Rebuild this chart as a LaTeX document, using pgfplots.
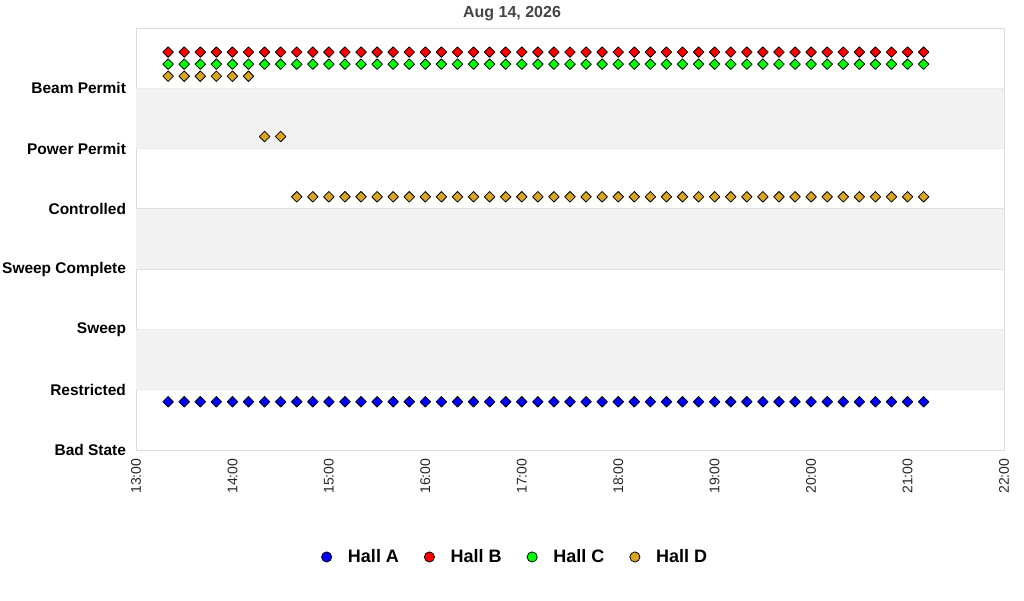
\documentclass[border=0pt]{standalone}
\usepackage{pgfplots}
\pgfplotsset{compat=1.18}
\usepackage{pgfplotstable}
\usepackage{fontspec}
\setmainfont{Liberation Sans}

\definecolor{hallA}{RGB}{0,0,255}
\definecolor{hallB}{RGB}{255,0,0}
\definecolor{hallC}{RGB}{0,255,0}
\definecolor{hallD}{RGB}{218,165,32}
\definecolor{band}{RGB}{242,242,242}
\definecolor{gridc}{RGB}{221,221,221}
\definecolor{titlec}{RGB}{68,68,68}

% minutes after 13:00, state index (offset per hall)
\pgfplotstableread{
x   a   b   c   d
20  0.8 6.6 6.4 6.2
30  0.8 6.6 6.4 6.2
40  0.8 6.6 6.4 6.2
50  0.8 6.6 6.4 6.2
60  0.8 6.6 6.4 6.2
70  0.8 6.6 6.4 6.2
80  0.8 6.6 6.4 5.2
90  0.8 6.6 6.4 5.2
100 0.8 6.6 6.4 4.2
110 0.8 6.6 6.4 4.2
120 0.8 6.6 6.4 4.2
130 0.8 6.6 6.4 4.2
140 0.8 6.6 6.4 4.2
150 0.8 6.6 6.4 4.2
160 0.8 6.6 6.4 4.2
170 0.8 6.6 6.4 4.2
180 0.8 6.6 6.4 4.2
190 0.8 6.6 6.4 4.2
200 0.8 6.6 6.4 4.2
210 0.8 6.6 6.4 4.2
220 0.8 6.6 6.4 4.2
230 0.8 6.6 6.4 4.2
240 0.8 6.6 6.4 4.2
250 0.8 6.6 6.4 4.2
260 0.8 6.6 6.4 4.2
270 0.8 6.6 6.4 4.2
280 0.8 6.6 6.4 4.2
290 0.8 6.6 6.4 4.2
300 0.8 6.6 6.4 4.2
310 0.8 6.6 6.4 4.2
320 0.8 6.6 6.4 4.2
330 0.8 6.6 6.4 4.2
340 0.8 6.6 6.4 4.2
350 0.8 6.6 6.4 4.2
360 0.8 6.6 6.4 4.2
370 0.8 6.6 6.4 4.2
380 0.8 6.6 6.4 4.2
390 0.8 6.6 6.4 4.2
400 0.8 6.6 6.4 4.2
410 0.8 6.6 6.4 4.2
420 0.8 6.6 6.4 4.2
430 0.8 6.6 6.4 4.2
440 0.8 6.6 6.4 4.2
450 0.8 6.6 6.4 4.2
460 0.8 6.6 6.4 4.2
470 0.8 6.6 6.4 4.2
480 0.8 6.6 6.4 4.2
490 0.8 6.6 6.4 4.2
}\statetable

\pgfplotsset{
  hall/.style={only marks, mark=square*, mark size=2.8pt,
    mark options={rotate=45, line join=round}, draw=black, fill=#1, line width=0.6pt},
}

\begin{document}
\begin{tikzpicture}[x=1pt,y=1pt]
  \useasboundingbox (-102pt,-112.5pt) rectangle (666pt,337.5pt);
  \begin{axis}[
    scale only axis,
    width=651pt,
    height=316.5pt,
    xmin=0, xmax=540,
    ymin=0, ymax=7,
    axis line style={draw=gridc},
    tickwidth=0pt,
    xtick={0,60,...,540},
    xticklabels={13:00,14:00,15:00,16:00,17:00,18:00,19:00,20:00,21:00,22:00},
    xticklabel shift=3pt,
    x tick label style={rotate=90, anchor=east, font=\fontsize{10.5}{12}\selectfont, text=black!85},
    ytick={0,1,2,3,4,5,6},
    yticklabels={Bad State,Restricted,Sweep,Sweep Complete,Controlled,Power Permit,Beam Permit},
    y tick label style={font=\fontsize{11.6}{14}\selectfont\bfseries, anchor=east, xshift=-4pt},
    ymajorgrids,
    major grid style={draw=gridc, line width=0.6pt},
    legend style={at={(0.4375,-0.2535)}, anchor=center, draw=none, fill=none,
      legend columns=-1, font=\fontsize{13.5}{15}\selectfont\bfseries,
      /tikz/every even column/.append style={column sep=17pt}},
    legend image code/.code={
      \path[draw=none, fill=none] (0pt,0pt) -- (17pt,0pt);
      \draw[mark=*, mark size=3.8pt, mark options={rotate=0}] plot coordinates {(3pt,0pt)};},
    clip=false,
  ]
  \addplot[fill=band, draw=none, forget plot] coordinates {(0,1) (540,1) (540,2) (0,2) (0,1)};
  \addplot[fill=band, draw=none, forget plot] coordinates {(0,3) (540,3) (540,4) (0,4) (0,3)};
  \addplot[fill=band, draw=none, forget plot] coordinates {(0,5) (540,5) (540,6) (0,6) (0,5)};
  \addplot[hall=hallA] table[x=x, y=a] {\statetable};
  \addplot[hall=hallB] table[x=x, y=b] {\statetable};
  \addplot[hall=hallC] table[x=x, y=c] {\statetable};
  \addplot[hall=hallD] table[x=x, y=d] {\statetable};
  \legend{Hall A, Hall B, Hall C, Hall D}
  \node[font=\fontsize{12}{14}\selectfont\bfseries, text=titlec] at (rel axis cs:0.4332,1.034) {Aug 14, 2026};
  \end{axis}
\end{tikzpicture}
\end{document}
